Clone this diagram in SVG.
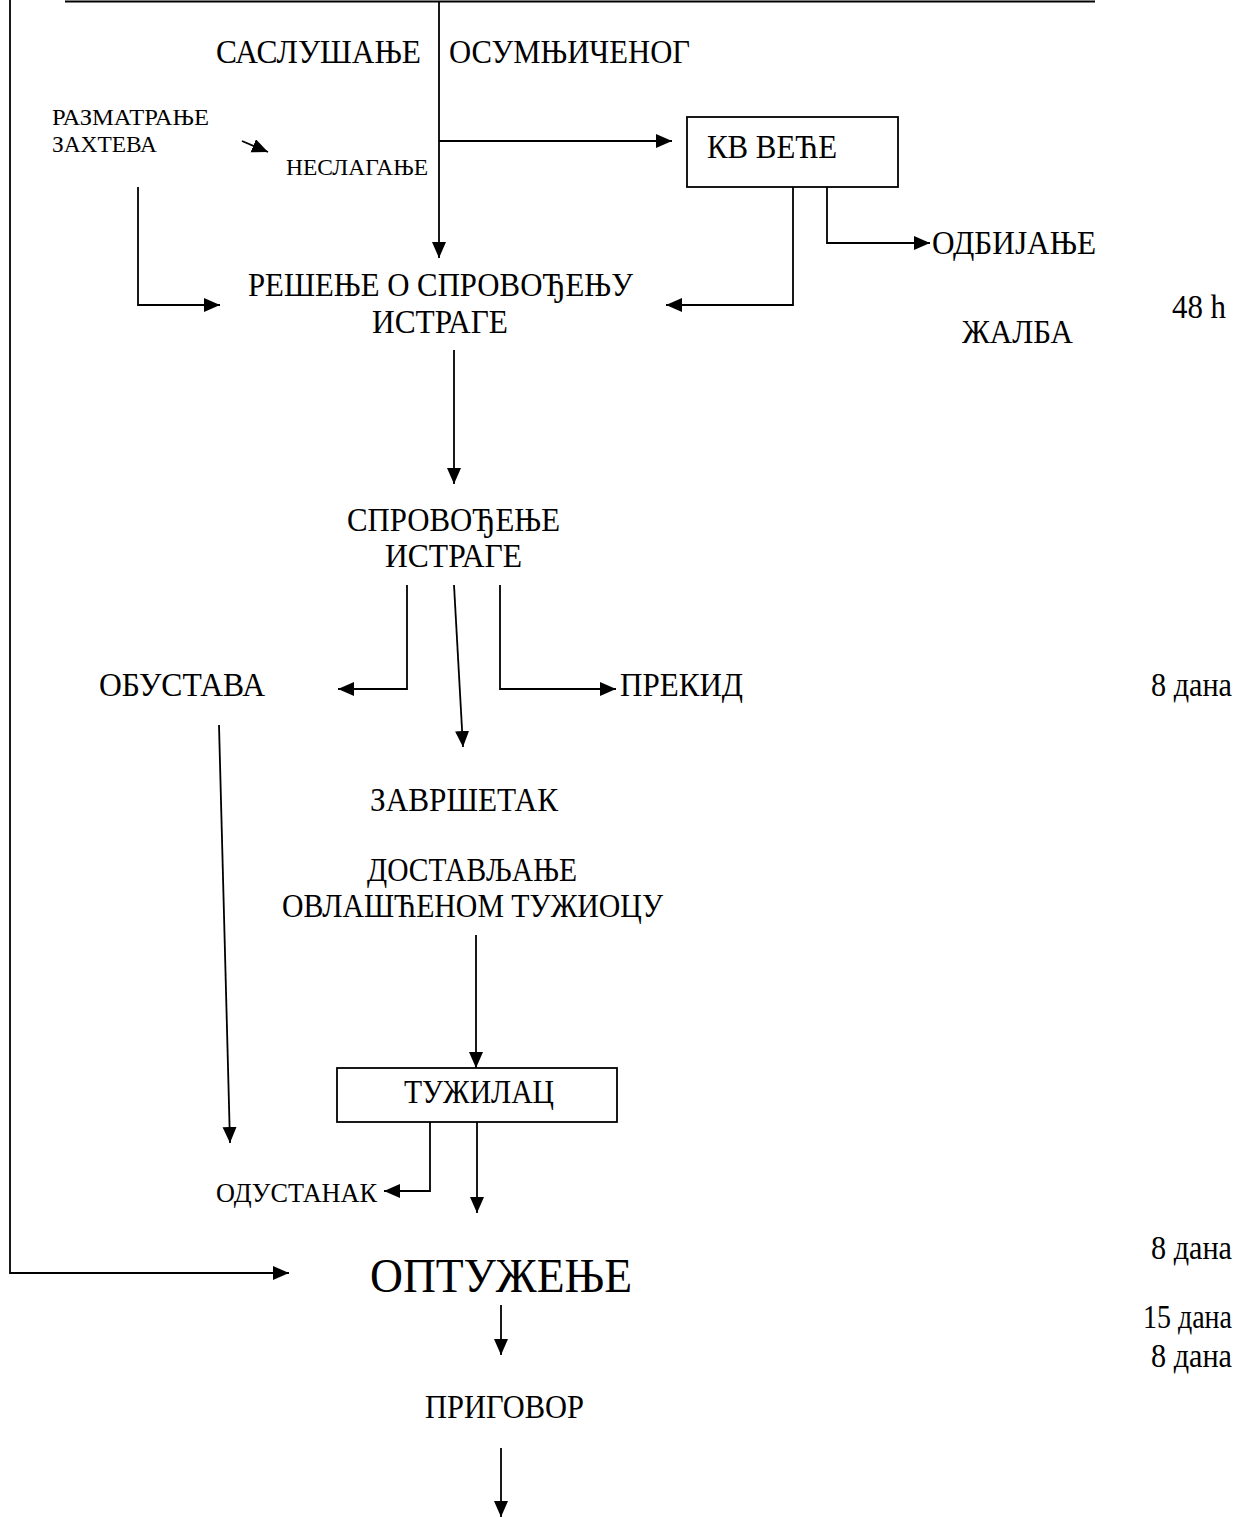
<svg xmlns="http://www.w3.org/2000/svg" width="1248" height="1517" viewBox="0 0 1248 1517">
<style>
text{font-family:"Liberation Serif","Times New Roman",serif;fill:#000}
.m{font-size:33px}
.s{font-size:24px}
.o{font-size:27px}
.b{font-size:48px}
.c{fill:none;stroke:#000;stroke-width:1.8}
.box{fill:#fff;stroke:#000;stroke-width:1.8}
</style>
<defs>
<marker id="ah" markerUnits="userSpaceOnUse" markerWidth="17" markerHeight="15" refX="16" refY="7" orient="auto">
<path d="M0,0 L16,7 L0,14 z" fill="#000"/>
</marker>
</defs>
<rect width="1248" height="1517" fill="#fff"/>
<g id="connectors">
<path class="c" d="M65,1.5 H1095" stroke-width="3"/>
<path class="c" d="M10,0 V1273 H289" marker-end="url(#ah)"/>
<path class="c" d="M439,2 V258" marker-end="url(#ah)"/>
<path class="c" d="M439,141 H672" marker-end="url(#ah)"/>
<path class="c" d="M242,141 L268,152" marker-end="url(#ah)"/>
<path class="c" d="M138,187 V305 H220" marker-end="url(#ah)"/>
<path class="c" d="M827,187 V243 H930" marker-end="url(#ah)"/>
<path class="c" d="M793,187 V305 H666" marker-end="url(#ah)"/>
<path class="c" d="M454,350 V484" marker-end="url(#ah)"/>
<path class="c" d="M407,585 V689 H338" marker-end="url(#ah)"/>
<path class="c" d="M454,585 L463,747" marker-end="url(#ah)"/>
<path class="c" d="M500,585 V689 H616" marker-end="url(#ah)"/>
<path class="c" d="M219,725 L230,1143" marker-end="url(#ah)"/>
<path class="c" d="M476,935 V1068" marker-end="url(#ah)"/>
<path class="c" d="M430,1122 V1191 H384" marker-end="url(#ah)"/>
<path class="c" d="M477,1122 V1213" marker-end="url(#ah)"/>
<path class="c" d="M501,1305 V1355" marker-end="url(#ah)"/>
<path class="c" d="M501,1448 V1517" marker-end="url(#ah)"/>
</g>
<g id="saslusanje"><text class="m" x="216" y="63" textLength="205" lengthAdjust="spacingAndGlyphs">САСЛУШАЊЕ</text></g>
<g id="osumnjicenog"><text class="m" x="449" y="63" textLength="241" lengthAdjust="spacingAndGlyphs">ОСУМЊИЧЕНОГ</text></g>
<g id="razmatranje"><text class="s" x="52" y="125" textLength="157" lengthAdjust="spacingAndGlyphs">РАЗМАТРАЊЕ</text><text class="s" x="52" y="152" textLength="105" lengthAdjust="spacingAndGlyphs">ЗАХТЕВА</text></g>
<g id="neslaganje"><text class="s" x="286" y="175" textLength="142" lengthAdjust="spacingAndGlyphs">НЕСЛАГАЊЕ</text></g>
<g id="kv-vece"><rect class="box" x="687" y="117" width="211" height="70"/><text class="m" x="707" y="158" textLength="130" lengthAdjust="spacingAndGlyphs">КВ ВЕЋЕ</text></g>
<g id="odbijanje"><text class="m" x="932" y="254" textLength="164" lengthAdjust="spacingAndGlyphs">ОДБИЈАЊЕ</text></g>
<g id="t48h"><text class="m" x="1172" y="318" textLength="54" lengthAdjust="spacingAndGlyphs">48 h</text></g>
<g id="zalba"><text class="m" x="962" y="343" textLength="111" lengthAdjust="spacingAndGlyphs">ЖАЛБА</text></g>
<g id="resenje"><text class="m" x="248" y="296" textLength="385" lengthAdjust="spacingAndGlyphs">РЕШЕЊЕ О СПРОВОЂЕЊУ</text><text class="m" x="372" y="333" textLength="136" lengthAdjust="spacingAndGlyphs">ИСТРАГЕ</text></g>
<g id="sprovodjenje"><text class="m" x="347" y="531" textLength="213" lengthAdjust="spacingAndGlyphs">СПРОВОЂЕЊЕ</text><text class="m" x="385" y="567" textLength="137" lengthAdjust="spacingAndGlyphs">ИСТРАГЕ</text></g>
<g id="obustava"><text class="m" x="99" y="696" textLength="166" lengthAdjust="spacingAndGlyphs">ОБУСТАВА</text></g>
<g id="prekid"><text class="m" x="620" y="696" textLength="123" lengthAdjust="spacingAndGlyphs">ПРЕКИД</text></g>
<g id="rok-8-1"><text class="m" x="1151" y="696" textLength="81" lengthAdjust="spacingAndGlyphs">8 дана</text></g>
<g id="zavrsetak"><text class="m" x="370" y="811" textLength="188" lengthAdjust="spacingAndGlyphs">ЗАВРШЕТАК</text></g>
<g id="dostavljanje"><text class="m" x="367" y="881" textLength="210" lengthAdjust="spacingAndGlyphs">ДОСТАВЉАЊЕ</text><text class="m" x="282" y="917" textLength="381" lengthAdjust="spacingAndGlyphs">ОВЛАШЋЕНОМ ТУЖИОЦУ</text></g>
<g id="tuzilac"><rect class="box" x="337" y="1068" width="280" height="54"/><text class="m" x="404" y="1103" textLength="150" lengthAdjust="spacingAndGlyphs">ТУЖИЛАЦ</text></g>
<g id="odustanak"><text class="o" x="216" y="1202" textLength="161" lengthAdjust="spacingAndGlyphs">ОДУСТАНАК</text></g>
<g id="optuzenje"><text class="b" x="370" y="1292" textLength="262" lengthAdjust="spacingAndGlyphs">ОПТУЖЕЊЕ</text></g>
<g id="rok-8-2"><text class="m" x="1151" y="1259" textLength="81" lengthAdjust="spacingAndGlyphs">8 дана</text></g>
<g id="rok-15"><text class="m" x="1143" y="1328" textLength="89" lengthAdjust="spacingAndGlyphs">15 дана</text></g>
<g id="rok-8-3"><text class="m" x="1151" y="1367" textLength="81" lengthAdjust="spacingAndGlyphs">8 дана</text></g>
<g id="prigovor"><text class="m" x="425" y="1418" textLength="159" lengthAdjust="spacingAndGlyphs">ПРИГОВОР</text></g>
</svg>
